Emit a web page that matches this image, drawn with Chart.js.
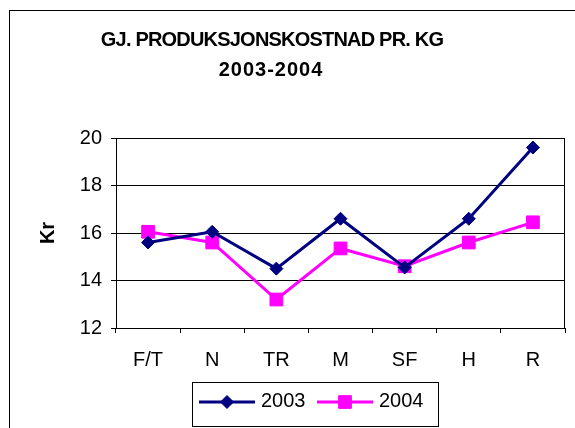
<!DOCTYPE html>
<html>
<head>
<meta charset="utf-8">
<script src="https://cdn.jsdelivr.net/npm/chart.js@4"></script>
<style>
  html, body { margin: 0; padding: 0; background: #fff; }
  canvas { display: block; }
</style>
</head>
<body>
<canvas id="c" width="575" height="428"></canvas>
<script>
const categories = ['F/T', 'N', 'TR', 'M', 'SF', 'H', 'R'];
const values2003 = [15.6, 16.05, 14.5, 16.6, 14.55, 16.6, 19.6];
const values2004 = [16.05, 15.6, 13.2, 15.35, 14.6, 15.6, 16.45];
const seriesLabels = ['2003', '2004'];
const yTickValues = [12, 14, 16, 18, 20];
const titleLines = ['GJ. PRODUKSJONSKOSTNAD PR. KG', '2003-2004'];
const yAxisTitle = 'Kr';

const FONT = "'Liberation Sans', Arial, sans-serif";
const NAVY = '#000080';
const MAGENTA = '#FF00FF';

const framePlugin = {
  id: 'frame',
  beforeDraw(chart) {
    const ctx = chart.ctx;
    ctx.save();
    ctx.fillStyle = '#fff';
    ctx.fillRect(0, 0, chart.width, chart.height);
    ctx.strokeStyle = '#000';
    ctx.lineWidth = 1;
    ctx.strokeRect(9.5, 10.5, 800, 800);
    // title
    ctx.fillStyle = '#000';
    ctx.font = "bold 20px " + FONT;
    ctx.textAlign = 'center';
    ctx.textBaseline = 'middle';
    ctx.letterSpacing = '-0.8px';
    ctx.fillText(titleLines[0], 272, 40);
    ctx.letterSpacing = '1px';
    ctx.fillText(titleLines[1], 271, 70);
    ctx.letterSpacing = '0px';
    ctx.restore();
  },
  afterDraw(chart) {
    const ctx = chart.ctx;
    const a = chart.chartArea;
    ctx.save();
    ctx.strokeStyle = '#000';
    ctx.lineWidth = 1;
    ctx.strokeRect(Math.round(a.left) + 0.5, Math.round(a.top) + 0.5,
                   Math.round(a.right - a.left) - 1, Math.round(a.bottom - a.top));
    // legend
    const bx = 192, by = 382, bw = 246, bh = 44;
    ctx.strokeRect(bx + 0.5, by + 0.5, bw, bh);
    const ly = 402;
    const items = [
      {x0: 199, x1: 255, tx: 261, color: NAVY, style: 'rectRot', r: 6.5, label: seriesLabels[0]},
      {x0: 317, x1: 373, tx: 379, color: MAGENTA, style: 'rect', r: 9, label: seriesLabels[1]}
    ];
    items.forEach(it => {
      ctx.strokeStyle = it.color;
      ctx.lineWidth = 3;
      ctx.beginPath();
      ctx.moveTo(it.x0, ly);
      ctx.lineTo(it.x1, ly);
      ctx.stroke();
      ctx.fillStyle = it.color;
      ctx.strokeStyle = it.color;
      ctx.lineWidth = 1;
      Chart.helpers.drawPoint(ctx, {pointStyle: it.style, radius: it.r, borderWidth: 1, rotation: 0},
                              (it.x0 + it.x1) / 2, ly);
      ctx.fillStyle = '#000';
      ctx.font = "20px " + FONT;
      ctx.textAlign = 'left';
      ctx.textBaseline = 'middle';
      ctx.fillText(it.label, it.tx, ly - 1);
    });
    ctx.restore();
  }
};

new Chart(document.getElementById('c'), {
  type: 'line',
  data: {
    labels: categories,
    datasets: [
      {
        label: seriesLabels[0],
        data: values2003,
        borderColor: NAVY,
        backgroundColor: NAVY,
        borderWidth: 3,
        pointStyle: 'rectRot',
        pointRadius: 6.5,
        pointBorderWidth: 1,
        tension: 0
      },
      {
        label: seriesLabels[1],
        data: values2004,
        borderColor: MAGENTA,
        backgroundColor: MAGENTA,
        borderWidth: 3,
        pointStyle: 'rect',
        pointRadius: 9,
        pointBorderWidth: 1,
        tension: 0
      }
    ]
  },
  options: {
    responsive: false,
    animation: false,
    devicePixelRatio: 1,
    layout: { padding: { left: 0, top: 138, right: 7, bottom: 0 } },
    plugins: {
      legend: { display: false },
      title: { display: false },
      tooltip: { enabled: false }
    },
    scales: {
      x: {
        offset: true,
        grid: { display: true, drawOnChartArea: false, offset: true, tickLength: 5, color: '#000', lineWidth: 1 },
        border: { display: true, color: '#000', width: 1 },
        ticks: { color: '#000', font: { family: FONT, size: 20 }, padding: 15, maxRotation: 0 },
        afterFit(s) { s.height = 100; }
      },
      y: {
        min: 12,
        max: 20,
        afterBuildTicks(s) { s.ticks = yTickValues.map(v => ({ value: v })); },
        grid: { color: '#000', lineWidth: 1, tickLength: 5 },
        border: { display: true, color: '#000', width: 1 },
        ticks: { color: '#000', font: { family: FONT, size: 20 }, padding: 9 },
        title: { display: true, text: yAxisTitle, color: '#000', font: { family: FONT, size: 20, weight: 'bold' }, padding: { top: 36, bottom: 0 } },
        afterFit(s) { s.width = 116; }
      }
    }
  },
  plugins: [framePlugin]
});
</script>
</body>
</html>
